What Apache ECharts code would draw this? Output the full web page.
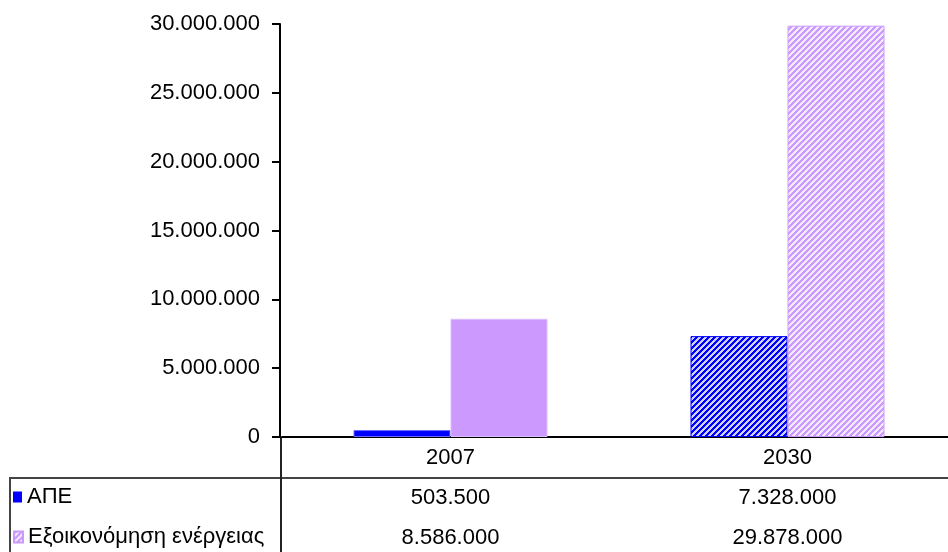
<!DOCTYPE html>
<html>
<head>
<meta charset="utf-8">
<script src="https://cdn.jsdelivr.net/npm/echarts@6/dist/echarts.min.js"></script>
<style>
  html, body { margin: 0; padding: 0; background: #fff; }
  #chart { width: 948px; height: 552px; }
</style>
</head>
<body>
<div id="chart"></div>
<script>
// Categories, series and their values
const years = ['2007', '2030'];
const seriesNames = ['ΑΠΕ', 'Εξοικονόμηση ενέργειας'];
const apeValues = [503500, 7328000];
const savingValues = [8586000, 29878000];
const yTicks = [0, 5000000, 10000000, 15000000, 20000000, 25000000, 30000000];

const FONT = '"Liberation Sans", Arial, sans-serif';
const BLUE = '#0000ff';
const LILAC = '#cc99ff';

// Thousands separated by dots
function fmt(v) {
  return String(v).replace(/\B(?=(\d{3})+(?!\d))/g, '.');
}

// Diagonal stripe fill ("/" direction)
function stripes(fg, bg) {
  const n = 6;
  const c = document.createElement('canvas');
  c.width = n; c.height = n;
  const ctx = c.getContext('2d');
  ctx.fillStyle = bg;
  ctx.fillRect(0, 0, n, n);
  ctx.fillStyle = fg;
  for (let y = 0; y < n; y++) {
    for (let x = 0; x < n; x++) {
      if ((x + y) % n < 3) ctx.fillRect(x, y, 1, 1);
    }
  }
  return { image: c, repeat: 'repeat' };
}

const blueHatch = stripes(BLUE, '#d0d0ff');
const lilacHatch = stripes(LILAC, '#f4eaff');

const chart = echarts.init(document.getElementById('chart'), null, { renderer: 'canvas' });

function tableAxis(values, offset) {
  return {
    type: 'category',
    gridIndex: 0,
    position: 'bottom',
    offset: offset,
    data: years,
    axisLine: { show: false },
    axisTick: { show: false },
    axisLabel: {
      margin: 10,
      fontSize: 22,
      fontFamily: FONT,
      color: '#000',
      formatter: (v, i) => fmt(values[i])
    }
  };
}

function legendRow(name, top) {
  return {
    orient: 'vertical',
    left: 13,
    top: top,
    padding: 0,
    itemWidth: 9,
    itemHeight: 11,
    selectedMode: false,
    icon: 'rect',
    textStyle: { fontSize: 22, fontFamily: FONT, color: '#000' },
    data: [name]
  };
}

chart.setOption({
  animation: false,
  backgroundColor: '#fff',
  grid: {
    left: 282, top: 24, width: 674, bottom: 115,
    containLabel: false,
    outerBoundsMode: 'none'
  },
  legend: [
    legendRow(seriesNames[0], 486),
    legendRow(seriesNames[1], 526)
  ],
  xAxis: [
    {
      type: 'category',
      data: years,
      axisLine: { lineStyle: { color: '#000', width: 2 } },
      axisTick: { show: false },
      axisLabel: { margin: 10, fontSize: 22, fontFamily: FONT, color: '#000' }
    },
    tableAxis(apeValues, 40),
    tableAxis(savingValues, 80)
  ],
  yAxis: {
    type: 'value',
    offset: 2,
    min: yTicks[0],
    max: yTicks[yTicks.length - 1],
    interval: yTicks[1] - yTicks[0],
    axisLine: { show: true, lineStyle: { color: '#000', width: 2 } },
    axisTick: { show: true, length: 8, lineStyle: { color: '#000', width: 2 } },
    splitLine: { show: false },
    axisLabel: { margin: 20, fontSize: 22, fontFamily: FONT, color: '#000', formatter: v => fmt(v) }
  },
  series: [
    {
      name: seriesNames[0],
      type: 'bar',
      barWidth: 97,
      barGap: '0%',
      itemStyle: { color: BLUE },
      data: [
        { value: apeValues[0], itemStyle: { color: BLUE, borderColor: '#6a6aff', borderWidth: 1 } },
        { value: apeValues[1], itemStyle: { color: blueHatch, borderColor: BLUE, borderWidth: 1 } }
      ]
    },
    {
      name: seriesNames[1],
      type: 'bar',
      barWidth: 97,
      barGap: '0%',
      itemStyle: { color: lilacHatch, borderColor: LILAC, borderWidth: 1 },
      data: [
        { value: savingValues[0], itemStyle: { color: LILAC, borderColor: '#dcbcff', borderWidth: 1 } },
        { value: savingValues[1], itemStyle: { color: lilacHatch, borderColor: LILAC, borderWidth: 1 } }
      ]
    }
  ],
  graphic: [
    { type: 'line', shape: { x1: 10, y1: 478, x2: 948, y2: 478 }, style: { stroke: '#444', lineWidth: 2 } },
    { type: 'line', shape: { x1: 10, y1: 477, x2: 10, y2: 552 }, style: { stroke: '#444', lineWidth: 2 } },
    { type: 'line', shape: { x1: 281, y1: 437, x2: 281, y2: 552 }, style: { stroke: '#222', lineWidth: 2 } }
  ]
});
</script>
</body>
</html>
